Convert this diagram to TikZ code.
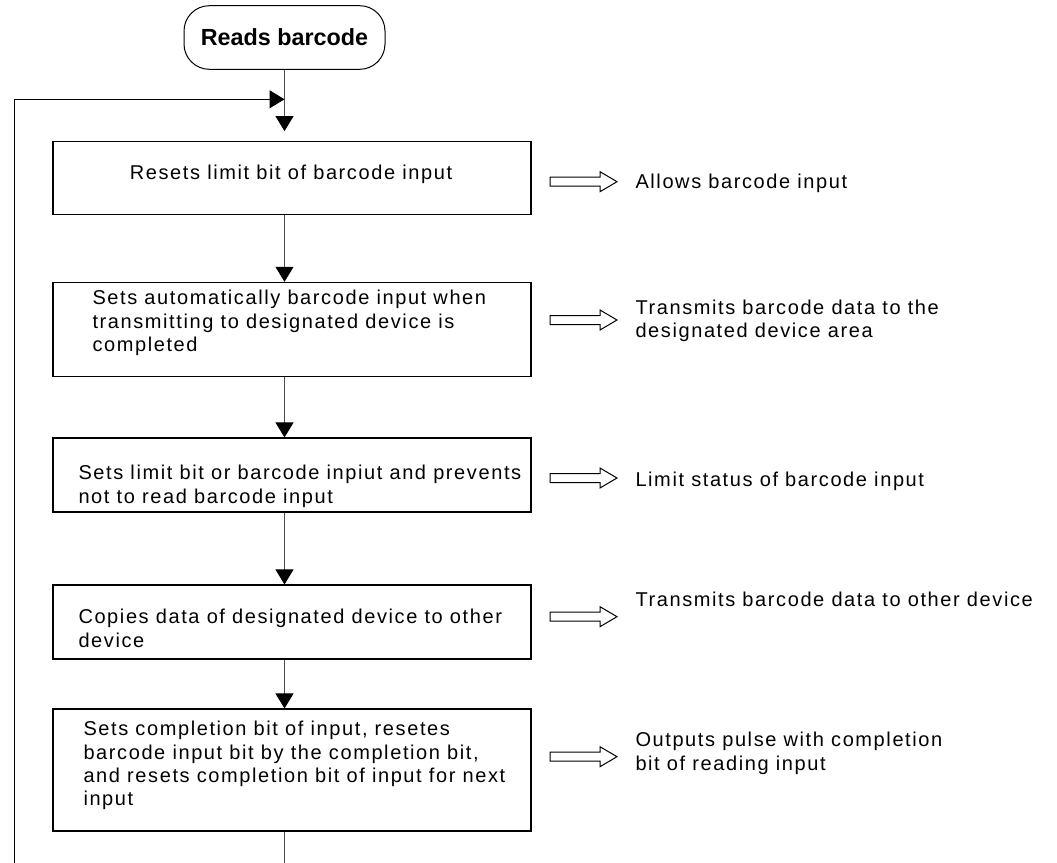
\documentclass[tikz,border=0pt]{standalone}
\usepackage{fontspec}
\setmainfont{Liberation Sans}
\newfontfamily\boxfont{Liberation Sans}[LetterSpace=8]
\usetikzlibrary{arrows.meta}
\begin{document}
\begin{tikzpicture}[x=0.75pt,y=-0.75pt,
  line width=0.75pt,
  box/.style={draw, line width=0.8pt, minimum width=358.5pt, inner sep=0pt},
  txt/.style={inner sep=0pt, anchor=north west, align=left, font=\boxfont\fontsize{15}{17.5}\selectfont},
  flow/.style={draw=black!70, -{Triangle[length=11.25pt,width=13.5pt,color=black]}},
  loopflow/.style={draw=black, -{Triangle[length=11.25pt,width=13.5pt,color=black]}},
  harrow/.pic={\draw[line width=0.75pt, fill=white] (0,-4.5) -- (50,-4.5) -- (50,-10) -- (67,0) -- (50,10) -- (50,4.5) -- (0,4.5) -- cycle;}]
\useasboundingbox (0,0) rectangle (1057,863);

% start node
\node[draw, rounded corners=19pt, minimum width=150.75pt, minimum height=47.7pt, inner sep=0pt,
      font=\bfseries\fontsize{17.5}{21}\selectfont] (start) at (284.5,37.5) {Reads barcode};

% boxes
\node[box, minimum height=55pt]   (b1) at (292,178.3) {};
\node[box, minimum height=70.3pt] (b2) at (292,329.2) {};
\node[box, minimum height=55.5pt] (b3) at (292,475) {};
\node[box, minimum height=55.5pt] (b4) at (292,622) {};
\node[box, minimum height=91.5pt] (b5) at (292,770) {};

% box texts
\node[txt, anchor=north] (t1) at (291,165) {Resets limit bit of barcode input};
\node[txt] (t2) at (92,290) {Sets automatically barcode input when\\transmitting to designated device is\\completed};
\node[txt] (t3) at (78,465) {Sets limit bit or barcode inpiut and prevents\\not to read barcode input};
\node[txt] (t4) at (78,609) {Copies data of designated device to other\\device};
\node[txt] (t5) at (83,721) {Sets completion bit of input, resetes\\barcode input bit by the completion bit,\\and resets completion bit of input for next\\input};

% right texts
\node[txt] (r1) at (635,174) {Allows barcode input};
\node[txt] (r2) at (635,299.4) {Transmits barcode data to the\\designated device area};
\node[txt] (r3) at (635,471.5) {Limit status of barcode input};
\node[txt] (r4) at (635,591.7) {Transmits barcode data to other device};
\node[txt] (r5) at (635,731.7) {Outputs pulse with completion\\bit of reading input};

% hollow arrows
\pic at (550,181.7) {harrow};
\pic at (550,320) {harrow};
\pic at (550,478) {harrow};
\pic at (550,616.7) {harrow};
\pic at (550,756.7) {harrow};

% connectors
\coordinate (loopy) at (0,99.3);
\coordinate (bottom) at (0,863);
\coordinate (loopbot) at (14.3,863);
\coordinate (loopin) at (start.south |- loopy);

\draw[flow, shorten >=7.5pt] (start.south) -- (b1.north -| start.south);
\draw[flow] (b1.south -| start.south) -- (b2.north -| start.south);
\draw[flow] (b2.south -| start.south) -- (b3.north -| start.south);
\draw[flow] (b3.south -| start.south) -- (b4.north -| start.south);
\draw[flow] (b4.south -| start.south) -- (b5.north -| start.south);
\draw[draw=black!70] (b5.south -| start.south) -- (bottom -| start.south);
\draw[loopflow] (loopbot) |- (loopin);
\end{tikzpicture}
\end{document}
